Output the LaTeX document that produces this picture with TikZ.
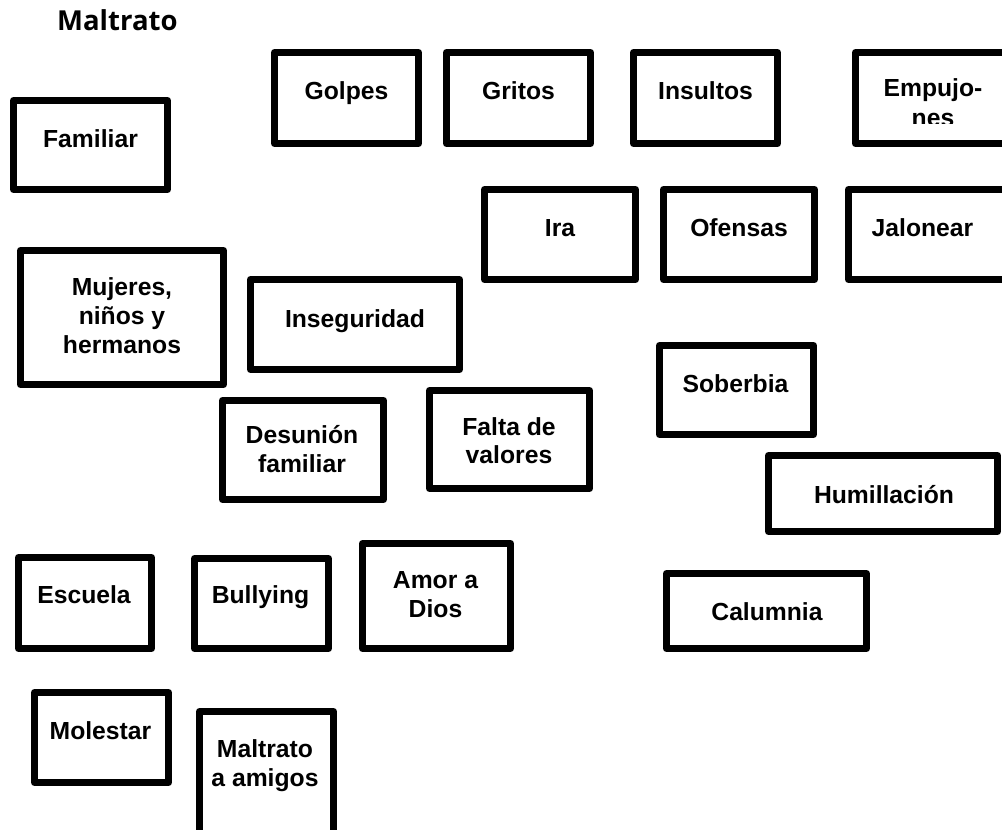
\documentclass[tikz,border=0pt]{standalone}
\usepackage{fontspec}
\setmainfont{Liberation Sans}
\newfontfamily\titlefont{Open Sans}
% centred lines stacked under the first baseline
\newcommand\lineas[2][29pt]{\vtop{\baselineskip=#1\lineskiplimit=-100pt\lineskip=0pt\halign{\hfil##\hfil\cr#2\crcr}}}
\tikzset{
  caja/.style={draw=black, line width=7pt, line join=round, inner sep=0pt},
  rotulo/.style={anchor=base, inner sep=0pt, font=\bfseries\fontsize{24.7}{29}\selectfont},
}
\begin{document}
\begin{tikzpicture}[x=1pt, y=-1pt]
\clip (0,0) rectangle (1002,830);
\fill[white] (0,0) rectangle (1002,830);

\node[anchor=base west, inner sep=0pt, font=\titlefont\bfseries\fontsize{27.5}{30}\selectfont] (titulo) at (57,30) {Maltrato};

% row of boxes at the top
\node[caja, minimum width=154pt, minimum height=89pt] (familiar) at (90.5,145) {};
\node[rotulo] (familiar-t) at (90.5,147) {Familiar};

\node[caja, minimum width=144pt, minimum height=91pt] (golpes) at (346.5,98) {};
\node[rotulo] (golpes-t) at (346.5,99) {Golpes};

\node[caja, minimum width=144pt, minimum height=91pt] (gritos) at (518.5,98) {};
\node[rotulo] (gritos-t) at (518.5,99) {Gritos};

\node[caja, minimum width=144pt, minimum height=91pt] (insultos) at (705.5,98) {};
\node[rotulo] (insultos-t) at (705.5,99) {Insultos};

\node[caja, minimum width=155pt, minimum height=91pt] (empujones) at (933,98) {};
\begin{scope}
  % the second line of this label is cut off by the text frame
  \clip (856,53) rectangle (1010,123);
  \node[rotulo] (empujones-t) at (933,96) {\lineas[30pt]{Empujo-\cr nes}};
\end{scope}

\node[caja, minimum width=151pt, minimum height=90pt] (ira) at (560,234.5) {};
\node[rotulo] (ira-t) at (560,236) {Ira};

\node[caja, minimum width=151pt, minimum height=90pt] (ofensas) at (739,234.5) {};
\node[rotulo] (ofensas-t) at (739,236) {Ofensas};

\node[caja, minimum width=160pt, minimum height=90pt] (jalonear) at (928.5,234.5) {};
\node[rotulo] (jalonear-t) at (922.5,236) {Jalonear};

% middle band
\node[caja, minimum width=203pt, minimum height=134pt] (mujeres) at (122,317.5) {};
\node[rotulo] (mujeres-t) at (122,295) {\lineas{Mujeres,\cr niños y\cr hermanos}};

\node[caja, minimum width=209pt, minimum height=90pt] (inseguridad) at (355,324.5) {};
\node[rotulo] (inseguridad-t) at (355,327) {Inseguridad};

\node[caja, minimum width=161pt, minimum height=99pt] (desunion) at (303,450) {};
\node[rotulo] (desunion-t) at (302,443) {\lineas{Desunión\cr familiar}};

\node[caja, minimum width=160pt, minimum height=98pt] (falta) at (509.5,439.5) {};
\node[rotulo] (falta-t) at (509,435) {\lineas[28pt]{Falta de\cr valores}};

\node[caja, minimum width=154pt, minimum height=89pt] (soberbia) at (736.5,390) {};
\node[rotulo] (soberbia-t) at (735.5,392) {Soberbia};

\node[caja, minimum width=229pt, minimum height=76pt] (humillacion) at (883,493.5) {};
\node[rotulo] (humillacion-t) at (884,503) {Humillación};

% lower band
\node[caja, minimum width=133pt, minimum height=91pt] (escuela) at (85,603) {};
\node[rotulo] (escuela-t) at (84,603) {Escuela};

\node[caja, minimum width=134pt, minimum height=90pt] (bullying) at (261.5,603.5) {};
\node[rotulo] (bullying-t) at (260.5,603) {Bullying};

\node[caja, minimum width=148pt, minimum height=105pt] (amor) at (436.5,596) {};
\node[rotulo] (amor-t) at (435.5,588) {\lineas{Amor a\cr Dios}};

\node[caja, minimum width=200pt, minimum height=75pt] (calumnia) at (766.5,611) {};
\node[rotulo] (calumnia-t) at (767,620) {Calumnia};

\node[caja, minimum width=134pt, minimum height=90pt] (molestar) at (101.5,737.5) {};
\node[rotulo] (molestar-t) at (100.5,739) {Molestar};

\node[caja, minimum width=134pt, minimum height=125pt] (amigos) at (266.5,774) {};
\node[rotulo] (amigos-t) at (265,757) {\lineas{Maltrato\cr a amigos}};
\end{tikzpicture}
\end{document}
